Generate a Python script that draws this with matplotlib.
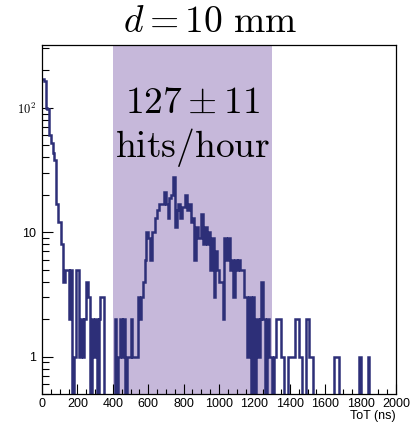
import numpy as np
import matplotlib
matplotlib.use("Agg")
import matplotlib.pyplot as plt
from matplotlib.ticker import FixedLocator, FixedFormatter, MultipleLocator

# ---- data ----
bin_width = 10  # ns
counts = [
    170, 165, 100, 97, 60, 52, 43, 38, 17, 12,      # 0-100
    12, 8, 4, 5, 5, 2, 5, 0, 1, 5,                 # 100-200
    5, 1, 2, 1, 2, 4, 3, 0, 2, 1,                  # 200-300
    2, 0, 2, 3, 3, 0, 0, 0, 0, 0,                  # 300-400
    0, 2, 0, 1, 2, 1, 2, 0, 1, 1,                  # 400-500
    2, 1, 1, 1, 3, 2, 3, 4, 6, 10,                 # 500-600
    9, 6, 10, 10, 13, 15, 17, 17, 17, 21,          # 600-700
    17, 13, 19, 20, 28, 11, 15, 17, 13, 16,        # 700-800
    16, 20, 15, 17, 12, 13, 6, 11, 9, 9,           # 800-900
    14, 8, 11, 8, 10, 5, 9, 3, 7, 5,               # 900-1000
    4, 4, 2, 9, 6, 9, 5, 6, 3, 6,                  # 1000-1100
    5, 6, 5, 5, 3, 3, 1, 3, 0, 3,                  # 1100-1200
    0, 2, 1, 2, 4, 2, 0, 2, 1, 1,                  # 1200-1300
    0, 1, 2, 2, 2, 1, 1, 0, 0, 1,                  # 1300-1400
    1, 1, 1, 2, 2, 1, 1, 0, 0, 2,                  # 1400-1500
    2, 1, 1, 0, 0, 0, 0, 0, 0, 0,                  # 1500-1600
    0, 0, 0, 0, 0, 1, 1, 1, 0, 0,                  # 1600-1700
    0, 0, 0, 0, 0, 0, 0, 0, 0, 1,                  # 1700-1800
    0, 0, 0, 0, 1, 0, 0, 0, 0, 0,                  # 1800-1900
    0, 0, 0, 0, 0, 0, 0, 0, 0, 0,                  # 1900-2000
]
window = (400, 1300)
x_ticks = [0, 200, 400, 600, 800, 1000, 1200, 1400, 1600, 1800, 2000]
y_ticks = [1, 10, 100]
y_tick_labels = ["1", "10", r"$10^{2}$"]
title = r"$d = 10\ \mathrm{mm}$"
rate_text = r"$127 \pm 11$"
unit_text = r"$\mathrm{hits/hour}$"
xlabel = "ToT (ns)"

# ---- plot ----
plt.rcParams["mathtext.fontset"] = "cm"
plt.rcParams["font.family"] = ["Liberation Sans", "DejaVu Sans"]

W, H = 413, 425
fig = plt.figure(figsize=(W / 100, H / 100), dpi=100)
ax = fig.add_axes([42 / W, 1 - 394 / H, (396 - 42) / W, (394 - 45) / H])

edges = np.arange(len(counts) + 1) * bin_width
vals = np.array(counts, dtype=float)
draw_vals = np.where(vals > 0, vals, 1e-3)

ax.axvspan(window[0], window[1], color="#c6b8da", zorder=0, lw=0)
ax.stairs(draw_vals, edges, color="#2d2f78", lw=1.8, zorder=2, baseline=None)

ax.set_yscale("log")
ax.set_xlim(0, 2000)
ax.set_ylim(0.5, 320)

ax.xaxis.set_major_locator(FixedLocator(x_ticks))
ax.xaxis.set_minor_locator(MultipleLocator(50))
ax.yaxis.set_major_locator(FixedLocator(y_ticks))
ax.yaxis.set_major_formatter(FixedFormatter(y_tick_labels))
minor_y = [m * 10 ** e for e in range(-1, 3) for m in range(2, 10)]
ax.yaxis.set_minor_locator(FixedLocator(minor_y))
ax.yaxis.set_minor_formatter(FixedFormatter([""] * len(minor_y)))

ax.tick_params(axis="x", which="major", direction="in", length=7, width=0.8,
               labelsize=9, pad=3, top=False)
ax.tick_params(axis="x", which="minor", direction="in", length=3.5, width=0.8, top=False)
ax.tick_params(axis="y", which="major", direction="in", length=8, width=0.8,
               labelsize=9, pad=4, right=False)
ax.tick_params(axis="y", which="minor", direction="in", length=5, width=0.8, right=False)
for s in ax.spines.values():
    s.set_linewidth(0.9)

fig.text(396 / W, 1 - 416 / H, xlabel, ha="right", va="center", fontsize=9)

fig.text(210 / W, 1 - 22 / H, title, ha="center", va="center", fontsize=27)
fig.text(193 / W, 1 - 103 / H, rate_text, ha="center", va="center", fontsize=27)
fig.text(193 / W, 1 - 148 / H, unit_text, ha="center", va="center", fontsize=27)

fig.savefig("out.png", dpi=100)
